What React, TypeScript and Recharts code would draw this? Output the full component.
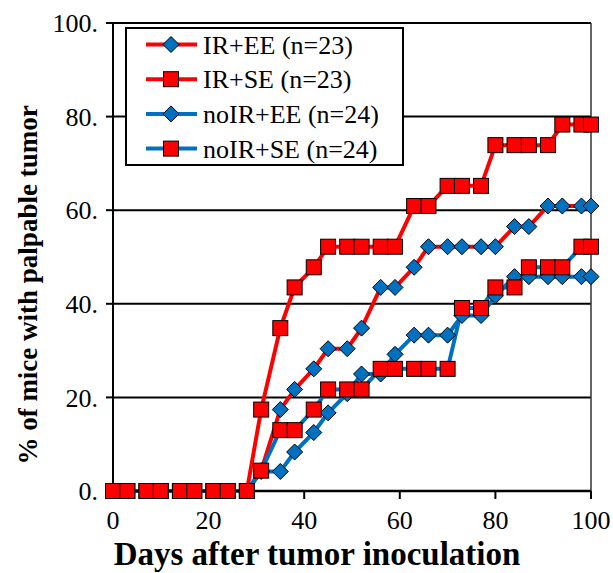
import React from 'react';
import { LineChart, Line, XAxis, YAxis, CartesianGrid, ReferenceLine, Legend } from 'recharts';

const days = [0, 3, 7, 10, 14, 17, 21, 24, 28, 31, 35, 38, 42, 45, 49, 52, 56, 59, 63, 66, 70, 73, 77, 80, 84, 87, 91, 94, 98, 100];
const irEE = [0, 0, 0, 0, 0, 0, 0, 0, 0, 4.35, 17.4, 21.7, 26.1, 30.4, 30.4, 34.8, 43.5, 43.5, 47.8, 52.2, 52.2, 52.2, 52.2, 52.2, 56.5, 56.5, 60.9, 60.9, 60.9, 60.9];
const irSE = [0, 0, 0, 0, 0, 0, 0, 0, 0, 17.4, 34.8, 43.5, 47.8, 52.2, 52.2, 52.2, 52.2, 52.2, 60.9, 60.9, 65.2, 65.2, 65.2, 73.9, 73.9, 73.9, 73.9, 78.3, 78.3, 78.3];
const noirEE = [0, 0, 0, 0, 0, 0, 0, 0, 0, 4.17, 4.17, 8.33, 12.5, 16.7, 20.8, 25, 25, 29.2, 33.3, 33.3, 33.3, 37.5, 37.5, 41.7, 45.8, 45.8, 45.8, 45.8, 45.8, 45.8];
const noirSE = [0, 0, 0, 0, 0, 0, 0, 0, 0, 4.35, 13.0, 13.0, 17.4, 21.7, 21.7, 21.7, 26.1, 26.1, 26.1, 26.1, 26.1, 39.1, 39.1, 43.5, 43.5, 47.8, 47.8, 47.8, 52.2, 52.2];

const xTicks = [0, 20, 40, 60, 80, 100];
const yTicks = [0, 20, 40, 60, 80, 100];

const seriesLabels = ['IR+EE (n=23)', 'IR+SE (n=23)', 'noIR+EE (n=24)', 'noIR+SE (n=24)'];

const RED = '#FF0000';
const BLUE = '#0070C0';
const FONT = "'Liberation Serif', 'Times New Roman', Times, serif";

const data = days.map((d, i) => ({
  day: d,
  irEE: irEE[i],
  irSE: irSE[i],
  noirEE: noirEE[i],
  noirSE: noirSE[i],
}));

const makeSquare = (prefix: string) => (props: any) => {
  const { cx, cy, index } = props;
  if (cx == null || cy == null) return <g key={`${prefix}-${index}`} />;
  return (
    <rect key={`${prefix}-${index}`} x={cx - 7.5} y={cy - 7.5} width={15} height={15} fill={RED} stroke="#000" strokeWidth={1} />
  );
};

const makeDiamond = (prefix: string) => (props: any) => {
  const { cx, cy, index } = props;
  if (cx == null || cy == null) return <g key={`${prefix}-${index}`} />;
  const r = 8;
  return (
    <polygon
      key={`${prefix}-${index}`}
      points={`${cx},${cy - r} ${cx + r},${cy} ${cx},${cy + r} ${cx - r},${cy}`}
      fill={BLUE}
      stroke="#000"
      strokeWidth={1}
    />
  );
};

const legendItems = [
  { label: seriesLabels[0], line: RED, marker: 'diamond' },
  { label: seriesLabels[1], line: RED, marker: 'square' },
  { label: seriesLabels[2], line: BLUE, marker: 'diamond' },
  { label: seriesLabels[3], line: BLUE, marker: 'square' },
];

const textStyle = { fontFamily: FONT };

const renderLegend = () => (
  <svg width={279} height={139} style={{ display: 'block', fontFamily: FONT }}>
    <rect x={1} y={1} width={277} height={137} fill="#fff" stroke="#000" strokeWidth={2} />
    {legendItems.map((it, i) => {
      const cy = 17.5 + i * 34.7;
      const mx = 46;
      return (
        <g key={i}>
          <line x1={21} x2={72} y1={cy} y2={cy} stroke={it.line} strokeWidth={4} />
          {it.marker === 'square' ? (
            <rect x={mx - 7.5} y={cy - 7.5} width={15} height={15} fill={RED} stroke="#000" strokeWidth={1} />
          ) : (
            <polygon points={`${mx},${cy - 8} ${mx + 8},${cy} ${mx},${cy + 8} ${mx - 8},${cy}`} fill={BLUE} stroke="#000" strokeWidth={1} />
          )}
          <text x={78} y={cy} dy="0.35em" fontSize={26} style={textStyle} fill="#000">
            {it.label}
          </text>
        </g>
      );
    })}
  </svg>
);

const YTitle = () => (
  <text
    x={28}
    y={285}
    transform="rotate(-90 28 285)"
    textAnchor="middle"
    dy="0.35em"
    fontSize={27}
    fontWeight="bold"
    style={textStyle}
    fill="#000"
  >
    % of mice with palpable tumor
  </text>
);

const XTitle = () => (
  <text x={317} y={553} textAnchor="middle" dy="0.35em" fontSize={33} fontWeight="bold" style={textStyle} fill="#000">
    Days after tumor inoculation
  </text>
);

export default function App() {
  return (
    <div style={{ position: 'absolute', left: 0, top: 0, width: 613, height: 573, background: '#fff', fontFamily: FONT }}>
      <LineChart width={613} height={573} data={data} margin={{ top: 23, right: 22, bottom: 0, left: 0 }} style={{ fontFamily: FONT }}>
        <CartesianGrid vertical={false} horizontal stroke="#000" strokeWidth={2} horizontalValues={yTicks} />
        <XAxis
          dataKey="day"
          type="number"
          domain={[0, 100]}
          ticks={xTicks}
          height={82}
          tickSize={8}
          tickMargin={12}
          axisLine={{ stroke: '#000', strokeWidth: 2.5 }}
          tickLine={{ stroke: '#000', strokeWidth: 2 }}
          tick={{ fontSize: 26, fill: '#000', fontFamily: FONT }}
          interval={0}
          label={<XTitle />}
        />
        <YAxis
          type="number"
          domain={[0, 100]}
          ticks={yTicks}
          width={113}
          tickSize={7}
          tickMargin={8}
          axisLine={{ stroke: '#000', strokeWidth: 2 }}
          tickLine={{ stroke: '#000', strokeWidth: 2 }}
          tick={{ fontSize: 26, fill: '#000', fontFamily: FONT }}
          tickFormatter={(v: number) => `${v}.`}
          interval={0}
          label={<YTitle />}
        />
        <ReferenceLine x={100} stroke="#333" strokeWidth={1.5} />
        <Legend
          layout="vertical"
          align="center"
          verticalAlign="middle"
          content={renderLegend}
          wrapperStyle={{ left: 125, top: 27, width: 279, height: 139 }}
        />
        <Line name={seriesLabels[0]} dataKey="irEE" stroke={RED} strokeWidth={4} dot={makeDiamond('a')} activeDot={false} isAnimationActive={false} />
        <Line name={seriesLabels[1]} dataKey="irSE" stroke={RED} strokeWidth={4} dot={makeSquare('b')} activeDot={false} isAnimationActive={false} />
        <Line name={seriesLabels[2]} dataKey="noirEE" stroke={BLUE} strokeWidth={4} dot={makeDiamond('c')} activeDot={false} isAnimationActive={false} />
        <Line name={seriesLabels[3]} dataKey="noirSE" stroke={BLUE} strokeWidth={4} dot={makeSquare('d')} activeDot={false} isAnimationActive={false} />
      </LineChart>
    </div>
  );
}
